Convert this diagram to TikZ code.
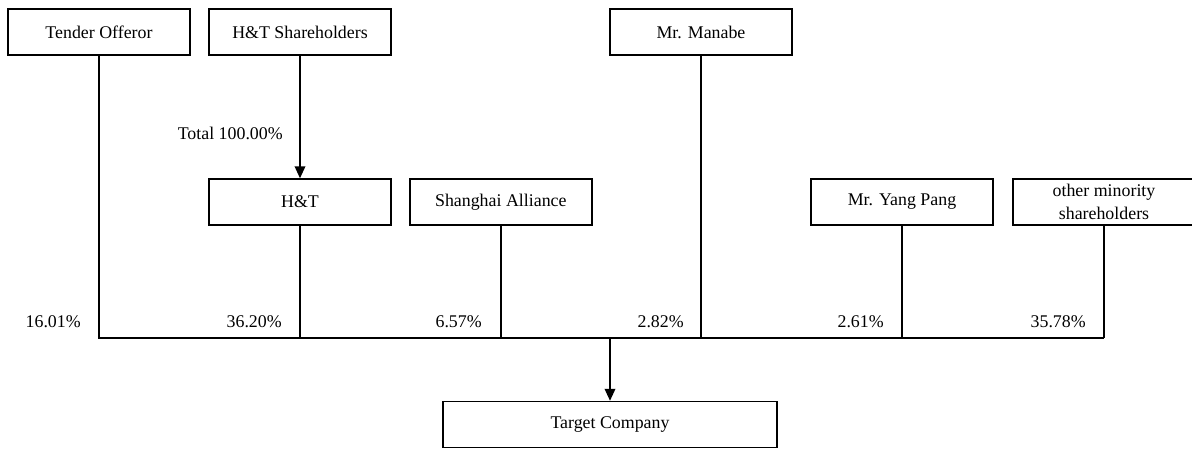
\documentclass[tikz,border=0pt]{standalone}
\usepackage{fontspec}
\setmainfont{Liberation Serif}
\usetikzlibrary{arrows.meta}
\begin{document}
\begin{tikzpicture}[x=0.75pt,y=-0.75pt,
  every node/.style={font=\fontsize{13.4pt}{17pt}\selectfont},
  box/.style={draw,line width=1.1pt,minimum width=136.5pt,minimum height=34.5pt,inner sep=0pt,align=center},
  link/.style={line width=1.1pt},
  arr/.style={line width=1.1pt,-{Triangle[length=9pt,width=8pt]}},
  pct/.style={anchor=east,inner sep=0pt}]
\useasboundingbox (0,0) rectangle (1192,450);
\node[box] (tender) at (99,32) {Tender Offeror};
\node[box] (hts) at (300,32) {H\&T Shareholders};
\node[box] (manabe) at (701,32) {Mr. Manabe};
\node[box] (ht) at (300,202) {H\&T};
\node[box] (sa) at (500.8,202) {Shanghai Alliance};
\node[box] (yang) at (902,202) {Mr. Yang Pang};
\node[box] (other) at (1104,202) {other minority\\shareholders};
\node[box,minimum width=250.5pt] (target) at (610,424.5) {Target Company};
\coordinate (bl) at (99,338);
\coordinate (br) at (1104,338);
\coordinate (bm) at (610,338);
\draw[arr] (hts.south) -- (ht.north);
\node[pct] (total) at (283,133) {Total 100.00\%};
\draw[link] (tender.south) |- (br);
\draw[link] (ht.south) -- (ht.south |- bl);
\draw[link] (sa.south) -- (sa.south |- bl);
\draw[link] (manabe.south) -- (manabe.south |- bl);
\draw[link] (yang.south) -- (yang.south |- bl);
\draw[link] (other.south) -- (br);
\draw[arr] (bm) -- (target.north);
\node[pct] (p1) at (81,322) {16.01\%};
\node[pct] (p2) at (282,322) {36.20\%};
\node[pct] (p3) at (482,322) {6.57\%};
\node[pct] (p4) at (684,322) {2.82\%};
\node[pct] (p5) at (884,322) {2.61\%};
\node[pct] (p6) at (1086,322) {35.78\%};
\end{tikzpicture}
\end{document}
